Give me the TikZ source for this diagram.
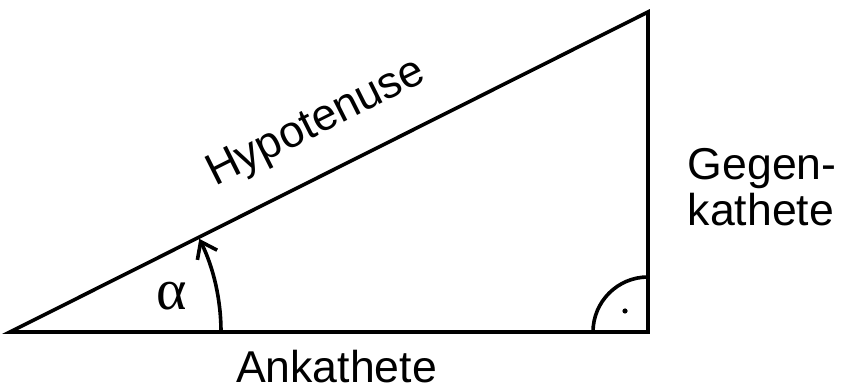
\documentclass[tikz,border=0pt]{standalone}
\usepackage{fontspec}
\setmainfont{Liberation Sans}
\newfontfamily\grk{Liberation Serif}
\usetikzlibrary{arrows.meta}
\begin{document}
\begin{tikzpicture}[x=0.5pt, y=0.5pt, line width=1.8pt, font=\fontsize{22.3}{23}\selectfont,
		lbl/.style={inner sep=0pt}]
			\useasboundingbox (0,0) rectangle (841,390);
			
			\coordinate (A) at (10,58);
			\coordinate (B) at (648,58);
			\coordinate (C) at (648,378);
			
			\draw[line join=miter] (A) -- (B) -- (C) -- cycle;
			
			% Winkel alpha
			\draw[-{Straight Barb[length=7.5pt, width=11pt, line width=1.8pt]}] ([shift={(0:211)}]A) arc[start angle=0, end angle=26.2, radius=211];
			\node[lbl, font=\grk\fontsize{29}{30}\selectfont] (alpha) at (172,94) {α};
			
			% rechter Winkel
			\draw ([shift={(180:55)}]B) arc[start angle=180, end angle=90, radius=55];
			\fill ([shift={(-23,21)}]B) circle[radius=2.6];
			
			\node[lbl, rotate=26.64, anchor=base] (hyp) at (321.5,256.5) {Hypotenuse};
			\node[lbl, anchor=base] (an) at (336.5,7) {Ankathete};
			\node[lbl, anchor=base west] (geg1) at (686,210) {Gegen-};
			\node[lbl, anchor=base west] (geg2) at (686,164) {kathete};
			
		\end{tikzpicture}
\end{document}
